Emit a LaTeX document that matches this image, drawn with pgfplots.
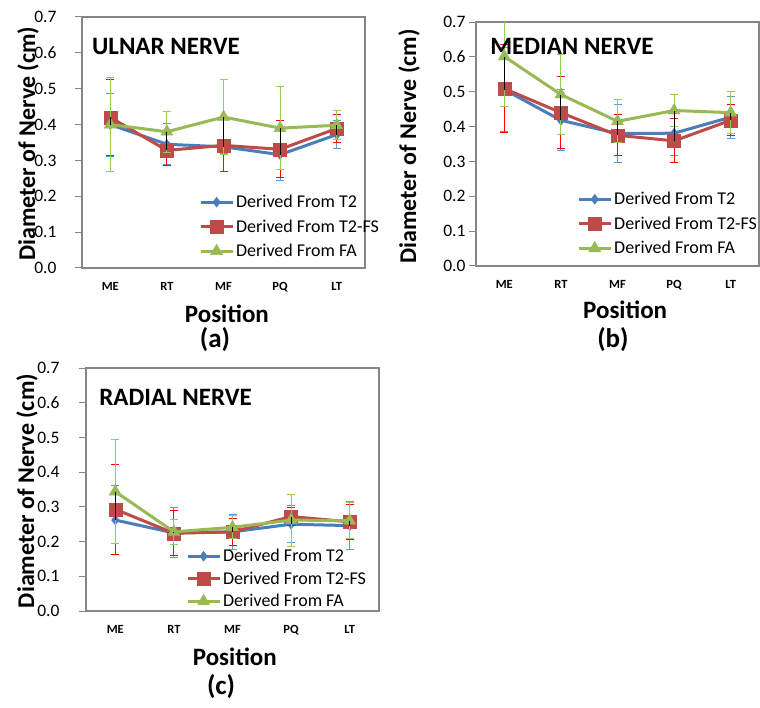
\documentclass[border=0pt]{standalone}
\usepackage{pgfplots}
\usepackage{pgfplotstable}
\pgfplotsset{compat=1.18}
\usepackage{fontspec}
\setmainfont{Carlito}

\definecolor{t2c}{HTML}{4A7EBB}
\definecolor{fsc}{HTML}{BE4B48}
\definecolor{fac}{HTML}{98B954}
\definecolor{t2e}{HTML}{5B9BD5}
\definecolor{fse}{HTML}{FF0000}
\definecolor{fae}{HTML}{92D050}
\definecolor{framec}{HTML}{868686}

\pgfplotstableread{
x t2 t2e fs fse fa fae
0 0.400 0.088 0.420 0.106 0.400 0.130
1 0.345 0.057 0.328 0.043 0.380 0.057
2 0.338 0.020 0.342 0.072 0.421 0.105
3 0.316 0.072 0.331 0.080 0.390 0.116
4 0.372 0.040 0.389 0.040 0.398 0.040
}\tabA

\pgfplotstableread{
x t2 t2e fs fse fa fae
0 0.506 0.120 0.509 0.127 0.601 0.143
1 0.418 0.087 0.440 0.104 0.492 0.115
2 0.380 0.082 0.375 0.059 0.415 0.062
3 0.381 0.064 0.359 0.063 0.446 0.047
4 0.427 0.060 0.418 0.045 0.440 0.060
}\tabB

\pgfplotstableread{
x t2 t2e fs fse fa fae
0 0.262 0.100 0.293 0.130 0.344 0.150
1 0.225 0.072 0.224 0.065 0.228 0.035
2 0.228 0.050 0.228 0.039 0.241 0.033
3 0.250 0.053 0.272 0.027 0.262 0.075
4 0.246 0.068 0.257 0.051 0.260 0.052
}\tabC

\pgfplotsset{
  nerve/.style={
    scale only axis,
    xmin=-0.5, xmax=4.5, ymin=0, ymax=0.7,
    xtick={0,1,2,3,4}, xticklabels={ME,RT,MF,PQ,LT},
    ytick={0,0.1,0.2,0.3,0.4,0.5,0.6,0.7},
    ytick pos=left, tick align=outside,
    major tick length=7pt,
    x tick style={draw=none},
    y tick style={color=framec, line width=1pt},
    axis line style={color=framec, line width=1.6pt},
    clip mode=individual,
    yticklabel style={font=\fontsize{17.5}{17.5}\selectfont,
      /pgf/number format/fixed, /pgf/number format/fixed zerofill,
      /pgf/number format/precision=1, /pgf/number format/assume math mode=true},
    xticklabel style={font=\bfseries\fontsize{12.5}{12.5}\selectfont, yshift=-3.5pt},
    ylabel={Diameter of Nerve (cm)},
    ylabel style={font=\bfseries\fontsize{24}{24}\selectfont, anchor=center},
    legend cell align=left,
    legend image code/.code={\draw[mark repeat=2,mark phase=2,##1] plot coordinates {(0pt,0pt) (16pt,0pt) (32pt,0pt)};},
    legend style={draw=none, fill=none, font=\fontsize{18}{18}\selectfont,
      inner sep=0pt, row sep=6.5pt, anchor=north west},
  },
  t2s/.style={color=t2c, line width=3pt, mark=diamond*, mark size=5pt,
    mark options={solid, fill=t2c, line width=0.4pt},
    /pgfplots/error bars/y dir=both, /pgfplots/error bars/y explicit,
    /pgfplots/error bars/error bar style={color=t2e, line width=1pt},
    /pgfplots/error bars/error mark options={rotate=90, mark size=4pt, line width=1pt, color=t2e}},
  fss/.style={color=fsc, line width=3pt, mark=square*, mark size=6.5pt,
    mark options={solid, fill=fsc, line width=0.4pt},
    /pgfplots/error bars/y dir=both, /pgfplots/error bars/y explicit,
    /pgfplots/error bars/error bar style={color=fse, line width=1pt},
    /pgfplots/error bars/error mark options={rotate=90, mark size=4pt, line width=1pt, color=fse}},
  fas/.style={color=fac, line width=3pt, mark=triangle*, mark size=7pt,
    mark options={solid, fill=fac, line width=0.4pt},
    /pgfplots/error bars/y dir=both, /pgfplots/error bars/y explicit,
    /pgfplots/error bars/error bar style={color=fae, line width=1pt},
    /pgfplots/error bars/error mark options={rotate=90, mark size=4pt, line width=1pt, color=fae}},
  hilo/.style={draw=none, mark=none, forget plot,
    /pgfplots/error bars/y dir=plus, /pgfplots/error bars/y explicit,
    /pgfplots/error bars/error mark=none,
    /pgfplots/error bars/error bar style={draw=black, line width=0.9pt, solid}},
}
\newcommand{\hilotable}[1]{%
  \addplot[hilo] table[x=x,
    y expr={min(\thisrow{t2},\thisrow{fs},\thisrow{fa})},
    y error plus expr={max(\thisrow{t2},\thisrow{fs},\thisrow{fa})-min(\thisrow{t2},\thisrow{fs},\thisrow{fa})}] {#1};}

\begin{document}
\begin{tikzpicture}
\useasboundingbox (0,0) rectangle (760pt,707pt);

% (a)
\begin{axis}[nerve, at={(82pt,439pt)}, anchor=south west, width=283pt, height=251pt,
  yticklabel style={xshift=-15pt},
  ylabel style={at={(axis description cs:-0.191,0.496)}},
  legend style={at={(axis description cs:0.413,0.299)}}]
\addplot[t2s] table[x=x, y=t2, y error=t2e] {\tabA};
\addplot[fss] table[x=x, y=fs, y error=fse] {\tabA};
\addplot[fas] table[x=x, y=fa, y error=fae] {\tabA};
\hilotable{\tabA}
\legend{Derived From T2, Derived From T2-FS, Derived From FA}
\node[anchor=west, font=\bfseries\fontsize{25}{25}\selectfont, inner sep=0pt] at (rel axis cs:0.035,0.884) {ULNAR NERVE};
\node[font=\bfseries\fontsize{25}{25}\selectfont, inner sep=0pt] at (rel axis cs:0.512,-0.181) {Position};
\node[font=\bfseries\fontsize{27}{27}\selectfont, inner sep=0pt] at (rel axis cs:0.470,-0.285) {(a)};
\end{axis}

% (b)
\begin{axis}[nerve, at={(476pt,441pt)}, anchor=south west, width=283pt, height=244pt,
  ylabel style={at={(axis description cs:-0.237,0.49)}},
  legend style={at={(axis description cs:0.357,0.311)}}]
\addplot[t2s] table[x=x, y=t2, y error=t2e] {\tabB};
\addplot[fss] table[x=x, y=fs, y error=fse] {\tabB};
\addplot[fas] table[x=x, y=fa, y error=fae] {\tabB};
\hilotable{\tabB}
\legend{Derived From T2, Derived From T2-FS, Derived From FA}
\node[anchor=west, font=\bfseries\fontsize{25}{25}\selectfont, inner sep=0pt] at (rel axis cs:0.05,0.899) {MEDIAN NERVE};
\node[font=\bfseries\fontsize{25}{25}\selectfont, inner sep=0pt] at (rel axis cs:0.527,-0.178) {Position};
\node[font=\bfseries\fontsize{27}{27}\selectfont, inner sep=0pt] at (rel axis cs:0.484,-0.30) {(b)};
\end{axis}

% (c)
\begin{axis}[nerve, at={(86pt,96pt)}, anchor=south west, width=293pt, height=243pt,
  yticklabel style={xshift=-16pt},
  ylabel style={at={(axis description cs:-0.201,0.494)}},
  legend style={at={(axis description cs:0.341,0.263)}, row sep=4.5pt}]
\addplot[t2s] table[x=x, y=t2, y error=t2e] {\tabC};
\addplot[fss] table[x=x, y=fs, y error=fse] {\tabC};
\addplot[fas] table[x=x, y=fa, y error=fae] {\tabC};
\hilotable{\tabC}
\legend{Derived From T2, Derived From T2-FS, Derived From FA}
\node[anchor=west, font=\bfseries\fontsize{25}{25}\selectfont, inner sep=0pt] at (rel axis cs:0.045,0.88) {RADIAL NERVE};
\node[font=\bfseries\fontsize{25}{25}\selectfont, inner sep=0pt] at (rel axis cs:0.508,-0.187) {Position};
\node[font=\bfseries\fontsize{27}{27}\selectfont, inner sep=0pt] at (rel axis cs:0.461,-0.31) {(c)};
\end{axis}
\end{tikzpicture}
\end{document}
